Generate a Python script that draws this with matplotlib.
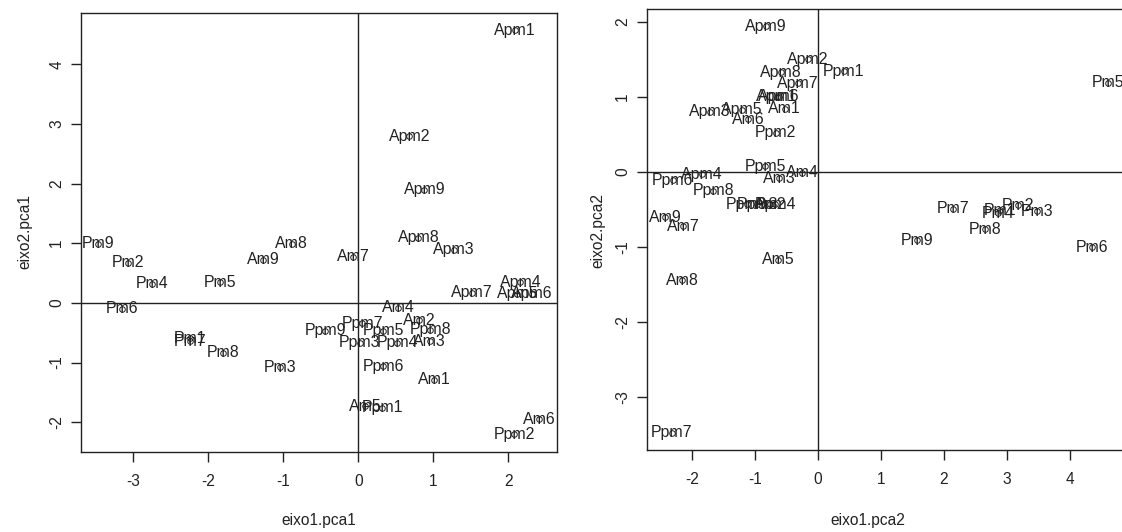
import matplotlib
matplotlib.use('Agg')
import matplotlib.pyplot as plt

plt.rcParams['font.family'] = ['Liberation Sans', 'DejaVu Sans']

# sample names (same order in both panels)
names = ['Apm1', 'Apm2', 'Apm3', 'Apm4', 'Apm5', 'Apm6', 'Apm7', 'Apm8', 'Apm9',
         'Am1', 'Am2', 'Am3', 'Am4', 'Am5', 'Am6', 'Am7', 'Am8', 'Am9',
         'Pm1', 'Pm2', 'Pm3', 'Pm4', 'Pm5', 'Pm6', 'Pm7', 'Pm8', 'Pm9',
         'Ppm1', 'Ppm2', 'Ppm3', 'Ppm4', 'Ppm5', 'Ppm6', 'Ppm7', 'Ppm8', 'Ppm9']

# pca1 scores
eixo1_pca1 = [2.09, 0.68, 1.27, 2.16, 2.12, 2.31, 1.51, 0.80, 0.88,
              1.01, 0.81, 0.95, 0.53, 0.09, 2.41, -0.07, -0.89, -1.27,
              -2.24, -3.07, -1.04, -2.75, -1.84, -3.15, -2.25, -1.81, -3.47,
              0.32, 2.08, 0.02, 0.52, 0.33, 0.33, 0.05, 0.96, -0.44]
eixo2_pca1 = [4.57, 2.79, 0.89, 0.35, 0.15, 0.15, 0.17, 1.09, 1.90,
              -1.29, -0.29, -0.64, -0.08, -1.73, -1.95, 0.77, 0.99, 0.72,
              -0.59, 0.67, -1.08, 0.32, 0.35, -0.10, -0.64, -0.84, 0.99,
              -1.76, -2.20, -0.67, -0.67, -0.47, -1.06, -0.34, -0.45, -0.47]

# pca2 scores
eixo1_pca2 = [-0.66, -0.16, -1.72, -1.85, -1.21, -0.62, -0.32, -0.59, -0.83,
              -0.53, -0.76, -0.62, -0.25, -0.63, -1.11, -2.15, -2.16, -2.43,
              2.90, 3.18, 3.48, 2.86, 4.61, 4.36, 2.15, 2.66, 1.58,
              0.41, -0.67, -0.97, -0.68, -0.84, -2.31, -2.33, -1.67, -1.13]
eixo2_pca2 = [1.00, 1.50, 0.80, -0.03, 0.83, 1.00, 1.18, 1.33, 1.94,
              0.84, -0.43, -0.08, -0.01, -1.17, 0.70, -0.72, -1.44, -0.60,
              -0.51, -0.44, -0.52, -0.55, 1.19, -1.00, -0.49, -0.76, -0.91,
              1.34, 0.52, -0.43, -0.43, 0.08, -0.11, -3.47, -0.25, -0.43]

fig = plt.figure(figsize=(11.22, 5.32), dpi=100)
W, H = 1122, 532


def panel(px0, py0, px1, py1, xs, ys, xlim, ylim, xticks, yticks, xlab, ylab,
          xlab_px, ylab_px):
    aw, ah = px1 - px0, py1 - py0
    ax = fig.add_axes([px0 / W, 1 - py1 / H, aw / W, ah / H])
    ax.plot(xs, ys, 'o', ms=4, mfc='none', mec='#222222', mew=0.7)
    for n, x, y in zip(names, xs, ys):
        ax.text(x, y, n, ha='center', va='center', fontsize=11.4, color='#222222')
    ax.axhline(0, color='#222222', lw=1)
    ax.axvline(0, color='#222222', lw=1)
    ax.set_xlim(xlim)
    ax.set_ylim(ylim)
    ax.set_xticks(xticks)
    ax.set_yticks(yticks)
    ax.set_xticklabels([str(t) for t in xticks])
    ax.set_yticklabels([str(t) for t in yticks], rotation=90, va='center')
    ax.tick_params(length=7, width=1, colors='#222222', labelsize=11.2)
    ax.tick_params(axis='x', pad=9)
    ax.tick_params(axis='y', pad=5)
    for s in ax.spines.values():
        s.set_color('#222222')
        s.set_linewidth(1)
    ax.set_xlabel(xlab, fontsize=11.2, color='#222222', va='center')
    ax.set_ylabel(ylab, fontsize=11.2, color='#222222', va='center')
    ax.xaxis.set_label_coords((xlab_px[0] - px0) / aw, (py1 - xlab_px[1]) / ah)
    ax.yaxis.set_label_coords((ylab_px[0] - px0) / aw, (py1 - ylab_px[1]) / ah)
    return ax


panel(81, 13, 557, 452, eixo1_pca1, eixo2_pca1,
      (-3.70, 2.647), (-2.50, 4.86), [-3, -2, -1, 0, 1, 2], [-2, -1, 0, 1, 2, 3, 4],
      'eixo1.pca1', 'eixo2.pca1', (319, 521), (25, 232))

panel(647, 9, 1135, 450, eixo1_pca2, eixo2_pca2,
      (-2.72, 5.04), (-3.70, 2.17), [-2, -1, 0, 1, 2, 3, 4], [-3, -2, -1, 0, 1, 2],
      'eixo1.pca2', 'eixo2.pca2', (868, 521), (598, 230))

fig.savefig('out.png', dpi=100)
